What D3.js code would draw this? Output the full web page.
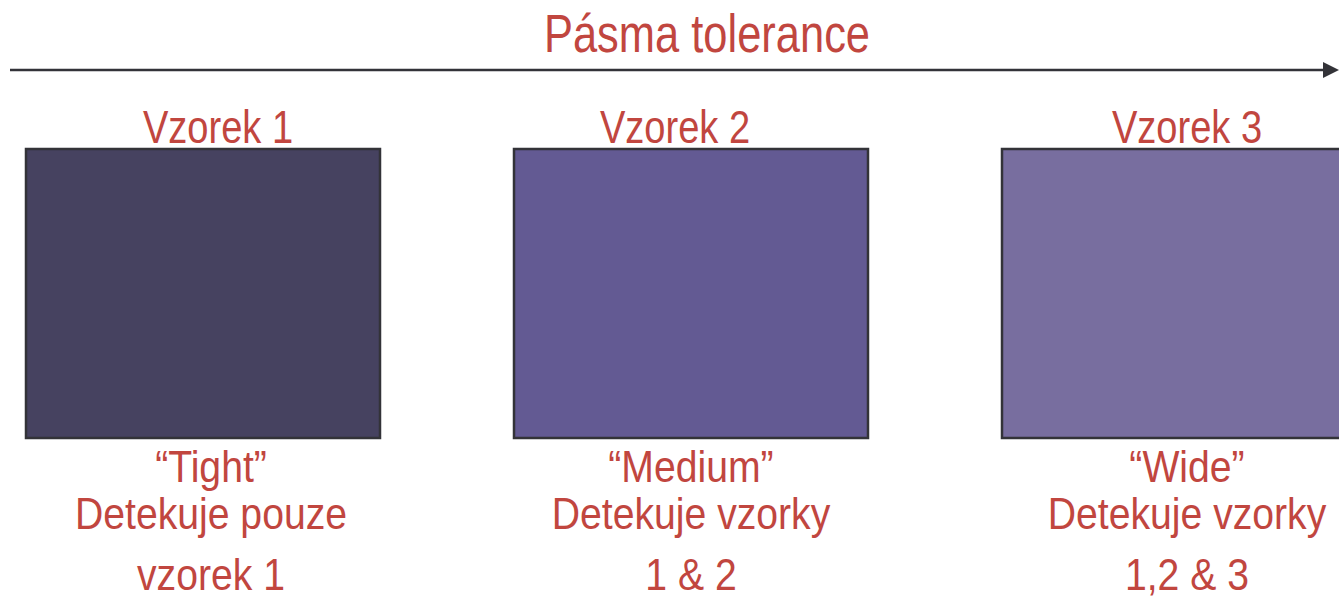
<!DOCTYPE html>
<html>
<head>
<meta charset="utf-8">
<script src="https://cdn.jsdelivr.net/npm/d3@7"></script>
<style>
  html,body{margin:0;padding:0;background:#fff;}
  #chart{width:1339px;height:600px;overflow:hidden;}
</style>
</head>
<body>
<div id="chart"></div>
<script>
// Tolerance bands diagram
const title = 'Pásma tolerance';
const samples = ['Vzorek 1', 'Vzorek 2', 'Vzorek 3'];
const bandNames = ['“Tight”', '“Medium”', '“Wide”'];
const detectLine1 = ['Detekuje pouze', 'Detekuje vzorky', 'Detekuje vzorky'];
const detectLine2 = ['vzorek 1', '1 & 2', '1,2 & 3'];
const fills = ['#464260', '#635a93', '#786e9f'];

(function(){
  const w = 1339, h = 600;
  const red = '#c1463f';
  const ink = '#333338';
  const font = '"Liberation Sans Narrow", "Liberation Sans", Arial, sans-serif';
  // label offsets from band centre (the slide is not perfectly aligned)
  const topNudge = [15, -16, 8];
  const botNudge = [8, 0, 8];

  const svg = d3.select('#chart').append('svg').attr('width', w).attr('height', h);

  svg.append('defs').append('marker')
    .attr('id','arrow').attr('viewBox','0 0 10 10').attr('refX',0).attr('refY',5)
    .attr('markerWidth',6.4).attr('markerHeight',6.4).attr('markerUnits','strokeWidth')
    .attr('orient','auto')
    .append('path').attr('d','M0,0L10,5L0,10Z').attr('fill',ink);

  svg.append('line')
    .attr('x1',10).attr('x2',1323).attr('y1',70).attr('y2',70)
    .attr('stroke',ink).attr('stroke-width',2.5)
    .attr('marker-end','url(#arrow)');

  // condensed text helper: squeeze horizontally
  function label(sel, size, sx){
    return sel.attr('text-anchor','middle')
      .attr('font-family', font)
      .attr('font-size', size).attr('fill', red)
      .attr('transform', `scale(${sx},1)`);
  }

  svg.append('g').attr('transform','translate(707,52)')
    .append('text').call(label, 53, 0.82).text(title);

  const x = d3.scaleBand().domain(samples).range([26, 1356]).paddingInner(0.2746).paddingOuter(0);
  const top = 149, bottom = 438;
  const cx = d => x(d) + x.bandwidth()/2;

  const g = svg.selectAll('g.sample').data(samples).enter().append('g').attr('class','sample');

  g.append('rect')
    .attr('x', d => x(d)).attr('y', top)
    .attr('width', x.bandwidth()).attr('height', bottom - top)
    .attr('fill', (d,i) => fills[i])
    .attr('stroke', ink).attr('stroke-width', 2.5);

  g.append('g').attr('transform', (d,i) => `translate(${cx(d) + topNudge[i]},143)`)
    .append('text').call(label, 47, 0.81).text(d => d);

  const lines = [
    {arr: bandNames, y: 482},
    {arr: detectLine1, y: 529},
    {arr: detectLine2, y: 590}
  ];
  lines.forEach(l => {
    g.append('g').attr('transform', (d,i) => `translate(${cx(d) + botNudge[i]},${l.y})`)
      .append('text').call(label, 44, 0.89).text((d,i) => l.arr[i]);
  });
})();
</script>
</body>
</html>
